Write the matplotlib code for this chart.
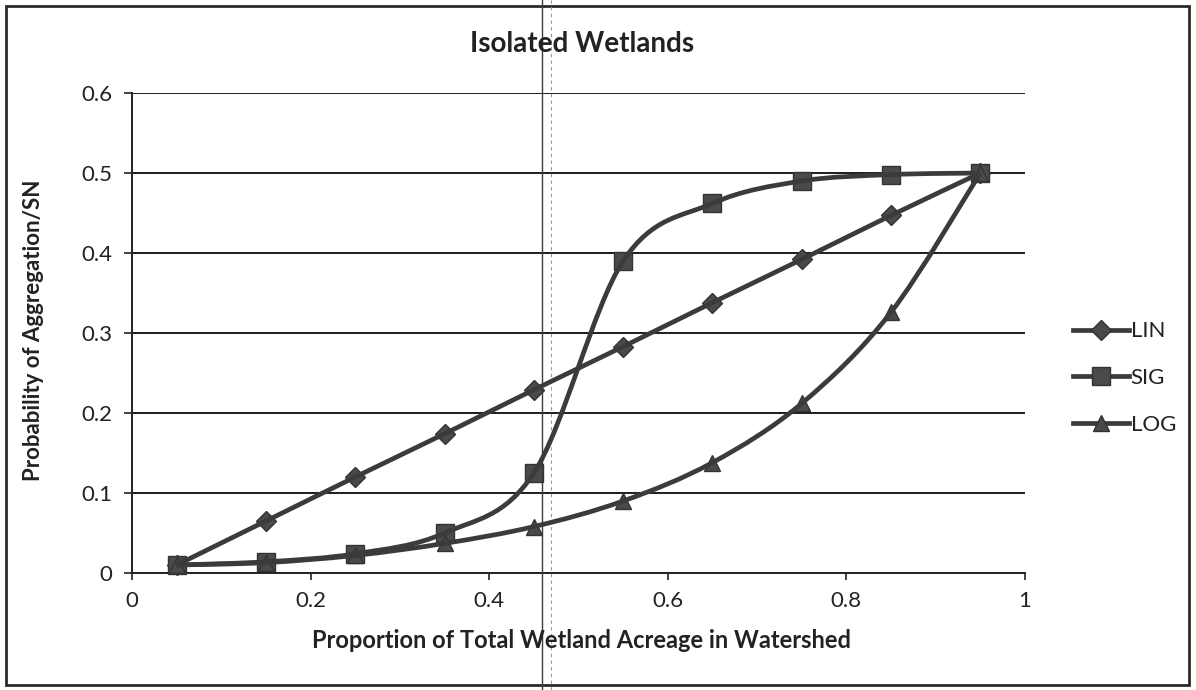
import numpy as np
import matplotlib
matplotlib.use("Agg")
import matplotlib.pyplot as plt
from matplotlib.path import Path
from matplotlib.patches import PathPatch, Rectangle
from matplotlib.lines import Line2D

plt.rcParams['font.family'] = ['Lato', 'DejaVu Sans']

# Data
proportion = [0.05, 0.15, 0.25, 0.35, 0.45, 0.55, 0.65, 0.75, 0.85, 0.95]
lin = [0.010, 0.065, 0.120, 0.174, 0.229, 0.283, 0.338, 0.392, 0.447, 0.500]
sig = [0.010, 0.014, 0.024, 0.050, 0.125, 0.390, 0.462, 0.490, 0.498, 0.500]
log = [0.010, 0.013, 0.022, 0.037, 0.058, 0.090, 0.138, 0.212, 0.326, 0.500]
series_names = ["LIN", "SIG", "LOG"]
markers = ["D", "s", "^"]
x_ticks = [0, 0.2, 0.4, 0.6, 0.8, 1]
x_tick_labels = ["0", "0.2", "0.4", "0.6", "0.8", "1"]
y_ticks = [0, 0.1, 0.2, 0.3, 0.4, 0.5, 0.6]
y_tick_labels = ["0", "0.1", "0.2", "0.3", "0.4", "0.5", "0.6"]

LINE = "#3b3b3b"
MARKER_SIZES = {"D": 10, "s": 13, "^": 11}


def smooth_path(xs, ys, transform_pts, tension=1 / 6):
    """Cardinal-spline Bezier path through points (in display space)."""
    pts = transform_pts(np.column_stack([xs, ys]))
    n = len(pts)
    verts = [pts[0]]
    codes = [Path.MOVETO]
    for i in range(n - 1):
        p0 = pts[i - 1] if i > 0 else pts[i]
        p1 = pts[i]
        p2 = pts[i + 1]
        p3 = pts[i + 2] if i + 2 < n else pts[i + 1]
        c1 = p1 + (p2 - p0) * tension
        c2 = p2 - (p3 - p1) * tension
        verts += [c1, c2, p2]
        codes += [Path.CURVE4] * 3
    return Path(verts, codes)


fig = plt.figure(figsize=(11.96, 6.9), dpi=100)
fig.patch.set_facecolor("white")
ax = fig.add_axes([132 / 1196, 1 - 573 / 690, (1025 - 132) / 1196, (573 - 93) / 690])

ax.set_xlim(0, 1)
ax.set_ylim(0, 0.6)
ax.set_xticks(x_ticks)
ax.set_xticklabels(x_tick_labels)
ax.set_yticks(y_ticks)
ax.set_yticklabels(y_tick_labels)
ax.tick_params(axis="both", labelsize=16, colors="#222222", direction="out", length=5, width=1.2, pad=8)
ax.tick_params(axis="y", length=6)
for side in ["top", "right"]:
    ax.spines[side].set_visible(False)
for side in ["left", "bottom"]:
    ax.spines[side].set_color("#222222")
    ax.spines[side].set_linewidth(1.4)
ax.yaxis.grid(True, color="#1c1c1c", linewidth=1.4)
ax.set_axisbelow(True)

fig.canvas.draw()
to_disp = ax.transData.transform

for ys, mk in zip([lin, sig, log], markers):
    path = smooth_path(proportion, ys, to_disp)
    patch = PathPatch(path, transform=None, facecolor="none", edgecolor=LINE,
                      linewidth=3.4, zorder=3, clip_on=False)
    fig.add_artist(patch)
    ax.plot(proportion, ys, linestyle="none", marker=mk, markersize=MARKER_SIZES[mk],
            color="#4a4a4a", markeredgecolor="#333333", zorder=4, clip_on=False)

# Title and axis labels
fig.text(582 / 1196, 1 - 44 / 690, "Isolated Wetlands", ha="center", va="center",
         fontsize=20, fontweight="bold", color="#222222")
fig.text(581 / 1196, 1 - 641 / 690, "Proportion of Total Wetland Acreage in Watershed",
         ha="center", va="center", fontsize=17, fontweight="bold", color="#222222")
fig.text(34 / 1196, 1 - 330 / 690, "Probability of Aggregation/SN", ha="center", va="center",
         rotation=90, fontsize=16, fontweight="bold", color="#222222")

# Legend
handles = [Line2D([0], [0], color=LINE, linewidth=3.4, marker=m,
                  markersize=MARKER_SIZES[m],
                  markerfacecolor="#4a4a4a", markeredgecolor="#333333")
           for m in markers]
leg = fig.legend(handles, series_names, loc="center left",
                 bbox_to_anchor=(1053 / 1196, 1 - 378 / 690), frameon=False,
                 fontsize=16, handlelength=2.5, handletextpad=0.1, labelspacing=1.2)
for t in leg.get_texts():
    t.set_color("#222222")

# Outer chart border
fig.add_artist(Rectangle((6 / 1196, 5 / 690), 1183 / 1196, 679 / 690,
                         transform=fig.transFigure, fill=False,
                         edgecolor="#2a2a2a", linewidth=2))
# Page fold line across the sheet
fig.add_artist(Line2D([542 / 1196, 542 / 1196], [0, 1], transform=fig.transFigure,
                      color="#3a3a3a", linewidth=1.0))
fig.add_artist(Line2D([551 / 1196, 551 / 1196], [0, 1], transform=fig.transFigure,
                      color="#9a9a9a", linewidth=0.8, linestyle=(0, (3, 3))))

fig.savefig("out.png", dpi=100, facecolor="white")
